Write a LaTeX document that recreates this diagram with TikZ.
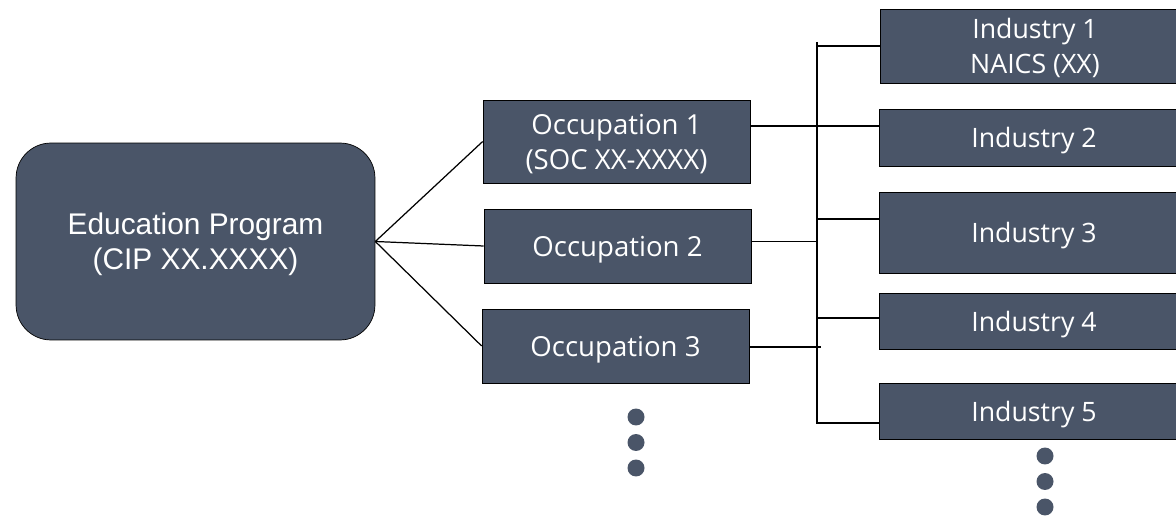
\documentclass[tikz,border=0pt]{standalone}
\usepackage{fontspec}
\setmainfont{Liberation Sans}
\newfontfamily\boxfont{Open Sans}
\usepackage{tikz}
\usetikzlibrary{calc}
\definecolor{slate}{RGB}{74,85,104}
\tikzset{
	progbox/.style={draw=black,fill=slate,text=white,rounded corners=0.7cm,align=center,text depth=0pt,
		minimum width=7.18cm,minimum height=3.94cm,font=\fontsize{17}{20}\selectfont},
	occbox/.style={draw=black,fill=slate,text=white,align=center,minimum width=5.34cm,text depth=0pt,
		font=\boxfont\fontsize{15.7}{20}\selectfont},
	indbox/.style={draw=black,fill=slate,text=white,align=center,minimum width=6.2cm,text depth=0pt,
		font=\boxfont\fontsize{15.2}{20}\selectfont},
	dot/.style={circle,fill=slate,inner sep=0pt,minimum size=0.34cm},
	link/.style={draw=black,line width=0.7pt}
}
\begin{document}
\begin{tikzpicture}[x=0.02cm,y=-0.02cm]
	\useasboundingbox (0,0) rectangle (1176,516);

	\node[progbox] (edu) at (195.5,241.5) {Education Program\\(CIP XX.XXXX)};

	\node[occbox,minimum height=1.66cm] (occ1) at (616.5,141.5) {Occupation 1\\(SOC XX-XXXX)};
	\node[occbox,minimum height=1.48cm] (occ2) at (617.5,246) {Occupation 2};
	\node[occbox,minimum height=1.48cm] (occ3) at (615.5,346) {Occupation 3};

	\node[indbox,minimum height=1.48cm] (ind1) at (1035,46) {Industry 1\\NAICS (XX)};
	\node[indbox,minimum height=1.14cm] (ind2) at (1034,137.5) {Industry 2};
	\node[indbox,minimum height=1.62cm] (ind3) at (1034,232.5) {Industry 3};
	\node[indbox,minimum height=1.12cm] (ind4) at (1034,321) {Industry 4};
	\node[indbox,minimum height=1.12cm] (ind5) at (1034,411) {Industry 5};

	\node[dot] (od1) at (636,417) {};
	\node[dot] (od2) at (636,442.5) {};
	\node[dot] (od3) at (636,468) {};
	\node[dot] (id1) at (1045,456) {};
	\node[dot] (id2) at (1045,481.5) {};
	\node[dot] (id3) at (1045,507) {};

	% bus between occupations and industries
	\coordinate (top) at (817,42);
	\coordinate (bot) at (817,424);
	\coordinate (j1) at (817,46);
	\coordinate (j2) at (817,126);
	\coordinate (j3) at (817,219);
	\coordinate (j4) at (817,318);
	\coordinate (j5) at (817,423);
	\coordinate (o2) at (817,241.5);
	\coordinate (o3) at (821,347);

\draw[link] (edu.east) -- (occ1.west); \draw[link] (edu.east) -- (occ2.west); \draw[link] (edu.east) -- (occ3.west);
\draw[link] (top) -- (bot);
\draw[link] (occ1.east |- j2) -- (ind2.west |- j2); \draw[link] (occ2.east |- o2) -- (o2); \draw[link] (occ3.east |- o3) -- (o3);
\draw[link] (j1) -- (ind1.west |- j1); \draw[link] (j3) -- (ind3.west |- j3); \draw[link] (j4) -- (ind4.west |- j4); \draw[link] (j5) -- (ind5.west |- j5);

\end{tikzpicture}
\end{document}
